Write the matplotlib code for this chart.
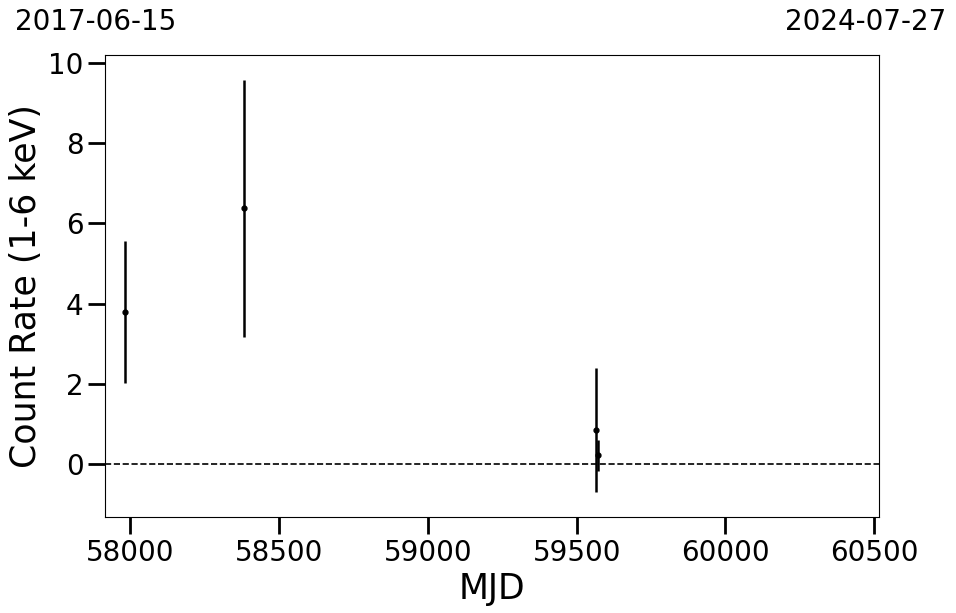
import matplotlib
matplotlib.use("Agg")
import matplotlib.pyplot as plt

mjd = [57982, 58383, 59565, 59573]
rate = [3.79, 6.38, 0.85, 0.22]
err = [1.76, 3.2, 1.55, 0.39]

date_start = "2017-06-15"
date_end = "2024-07-27"
xmin, xmax = 57915, 60516

fig = plt.figure(figsize=(9.56, 6.13), dpi=100)
ax = fig.add_axes([0.1098, 0.1566, 0.8097, 0.7537])

ax.errorbar(mjd, rate, yerr=err, fmt='o', color='k', ms=3.5, elinewidth=1.8, capsize=0)
ax.axhline(0, color='k', ls='--', lw=1.2)

ax.set_xlim(xmin, xmax)
ax.set_ylim(-1.32, 10.2)
ax.set_xticks([58000, 58500, 59000, 59500, 60000, 60500])
ax.set_yticks([0, 2, 4, 6, 8, 10])
ax.tick_params(labelsize=20, length=12, width=2)
ax.set_xlabel("MJD", fontsize=25)
ax.set_ylabel("Count Rate (1-6 keV)", fontsize=25)

fig.text(15 / 956, 1 - 22 / 613, date_start, fontsize=20, ha='left', va='center')
fig.text(946 / 956, 1 - 22 / 613, date_end, fontsize=20, ha='right', va='center')

fig.savefig("out.png", dpi=100)
